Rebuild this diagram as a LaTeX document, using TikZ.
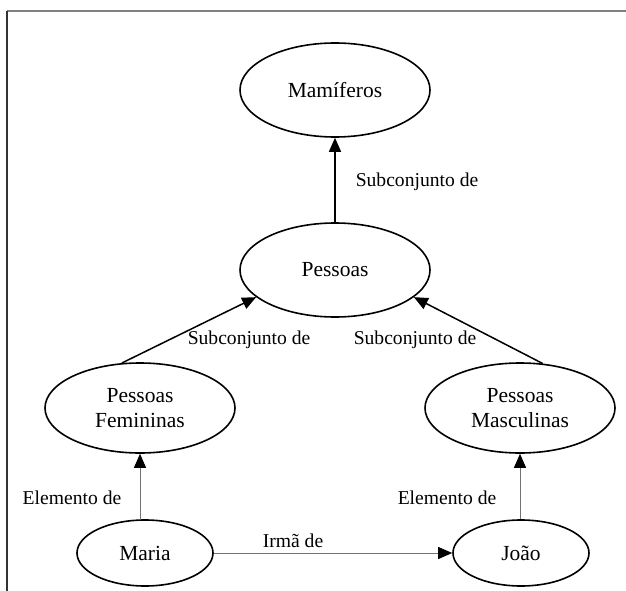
\documentclass[tikz,border=0pt]{standalone}
\usepackage{fontspec}
\setmainfont{Liberation Serif}
\usetikzlibrary{shapes.geometric,arrows.meta}
\begin{document}
\begin{tikzpicture}[x=1pt,y=-1pt,
  concept/.style={draw,ellipse,line width=1.6pt,inner sep=0pt,align=center,
    font=\fontsize{21.5}{25}\selectfont},
  bigconcept/.style={concept,minimum width=190,minimum height=94},
  midconcept/.style={concept,minimum width=190,minimum height=90},
  smallconcept/.style={concept,minimum width=136,minimum height=66},
  subset/.style={line width=1.5pt,-{Triangle[length=14pt,width=12pt]}},
  member/.style={draw=black!55,line width=0.9pt,-{Triangle[length=14pt,width=12pt,fill=black,color=black]}},
  rel/.style={font=\fontsize{19.6}{22}\selectfont,inner sep=0pt}]
\useasboundingbox (0,0) rectangle (626,591);
% page frame
\draw[black!50,line width=1.6pt] (7,11) -- (626,11);
\draw[black!80,line width=1.6pt] (7,11) -- (7,591);
% concepts
\node[bigconcept] (mam) at (335,90) {Mamíferos};
\node[bigconcept] (pes) at (335,270) {Pessoas};
\node[midconcept] (fem) at (140,408) {Pessoas\\Femininas};
\node[midconcept] (mas) at (520,408) {Pessoas\\Masculinas};
\node[smallconcept] (maria) at (145,553) {Maria};
\node[smallconcept] (joao) at (521,553) {João};
% relations
\draw[subset] (pes.north) -- (mam.south);
\draw[subset] (fem.112) -- (pes.199);
\draw[subset] (mas.63) -- (pes.341);
\draw[member] (maria.north -| fem.south) -- (fem.south);
\draw[member] (joao.north -| mas.south) -- (mas.south);
\draw[member] (maria.east) -- (joao.west);
% relation labels
\node[rel] (l1) at (417,182) {Subconjunto de};
\node[rel] (l2) at (249,340) {Subconjunto de};
\node[rel] (l3) at (415,340) {Subconjunto de};
\node[rel] (l4) at (72,498) {Elemento de};
\node[rel] (l5) at (447,498) {Elemento de};
\node[rel] (l6) at (293,541) {Irmã de};
\end{tikzpicture}
\end{document}
